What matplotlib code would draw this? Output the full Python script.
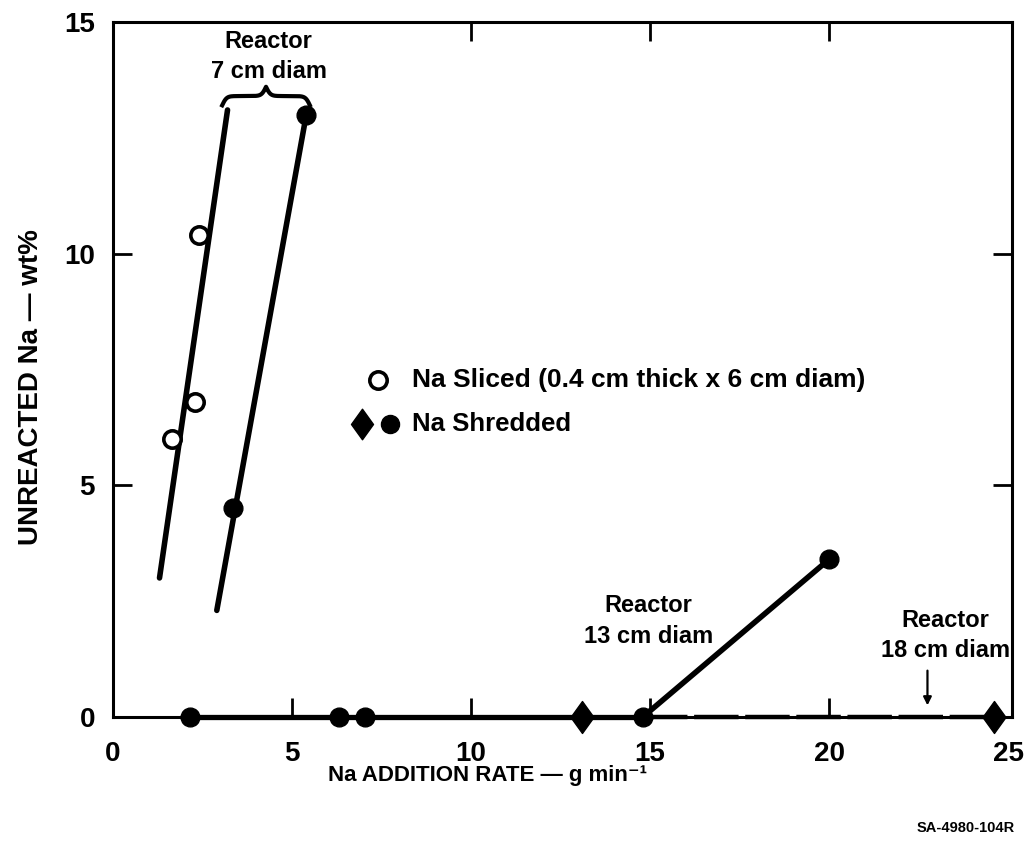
import numpy as np
import matplotlib
matplotlib.use("Agg")
import matplotlib.pyplot as plt
from matplotlib.path import Path

# Sodium sliced, 7 cm reactor (open circles)
sliced_x = [1.65, 2.3, 2.4]
sliced_y = [6.0, 6.8, 10.4]
sliced_fit_x = [1.3, 3.2]
sliced_fit_y = [3.0, 13.1]

# Sodium shredded, 7 cm reactor (filled circles)
shred7_x = [3.35, 5.4]
shred7_y = [4.5, 13.0]
shred7_fit_x = [2.9, 5.4]
shred7_fit_y = [2.3, 13.0]

# Sodium shredded, 13 cm reactor
shred13_x = [2.15, 6.3, 7.05, 14.8, 20.0]
shred13_y = [0.0, 0.0, 0.0, 0.0, 3.4]

# Sodium shredded, 18 cm reactor (diamonds)
shred18_x = [13.1, 24.6]
shred18_y = [0.0, 0.0]

x_ticks = [0, 5, 10, 15, 20, 25]
x_ticks_top = [10, 15, 20]
y_ticks = [0, 5, 10, 15]

plt.rcParams.update({
    "font.family": ["Liberation Sans", "DejaVu Sans"],
    "font.weight": "bold",
    "font.size": 16,
})

# tall diamond marker
diamond = Path([(0, 1), (0.72, 0), (0, -1), (-0.72, 0), (0, 1)],
               [Path.MOVETO, Path.LINETO, Path.LINETO, Path.LINETO, Path.CLOSEPOLY])

fig = plt.figure(figsize=(10.27, 8.43), dpi=100)
ax = fig.add_axes([0.110, 0.1495, 0.875, 0.8245])
ax.set_xlim(0, 25.1)
ax.set_ylim(0, 15)

for s in ax.spines.values():
    s.set_linewidth(2.2)

ax.set_xticks(x_ticks)
ax.set_yticks(y_ticks)
ax.tick_params(direction="in", length=14, width=2, labelsize=20, right=True)
ax.tick_params(axis="x", pad=17)
ax.tick_params(axis="y", pad=13)
for lab in ax.get_xticklabels() + ax.get_yticklabels():
    lab.set_fontweight("bold")
# no tick mark at the right-hand corner
ax.xaxis.get_major_ticks()[-1].tick1line.set_visible(False)

top = ax.secondary_xaxis("top")
top.set_xticks(x_ticks_top)
top.set_xticklabels([])
top.tick_params(direction="in", length=14, width=2)

# fitted lines for the 7 cm reactor
ax.plot(sliced_fit_x, sliced_fit_y, color="black", lw=4, solid_capstyle="round")
ax.plot(shred7_fit_x, shred7_fit_y, color="black", lw=4, solid_capstyle="round")

# 13 cm reactor: flat along zero, then rising
ax.plot(shred13_x[:4], shred13_y[:4], color="black", lw=3.8, clip_on=False, zorder=3)
ax.plot(shred13_x[3:], shred13_y[3:], color="black", lw=4, clip_on=False,
        solid_capstyle="round", zorder=3)
# 18 cm reactor continuation
ax.plot([shred13_x[3], shred18_x[1]], [0, 0], color="black", lw=3.2,
        dashes=(10, 1.5), clip_on=False, zorder=3)

ax.plot(sliced_x, sliced_y, "o", ms=12.5, mfc="white", mec="black", mew=2.6, zorder=4)
ax.plot(shred7_x, shred7_y, "o", ms=13.5, color="black", zorder=4)
ax.plot(shred13_x, shred13_y, "o", ms=13.5, color="black", clip_on=False, zorder=4)
ax.plot(shred18_x, shred18_y, marker=diamond, ls="none", ms=23, color="black",
        clip_on=False, zorder=4)

# legend drawn inside the plot area
ax.plot([7.4], [7.28], "o", ms=12.5, mfc="white", mec="black", mew=2.6)
ax.text(8.35, 7.28, "Na Sliced (0.4 cm thick x 6 cm diam)", fontsize=19,
        fontweight="bold", va="center", ha="left")
ax.plot([6.95], [6.33], marker=diamond, ls="none", ms=22, color="black")
ax.plot([7.75], [6.33], "o", ms=13, color="black")
ax.text(8.35, 6.33, "Na Shredded", fontsize=18.5, fontweight="bold",
        va="center", ha="left")

# curly brace over the 7 cm reactor lines
x0, x1, yb, h = 3.05, 5.5, 13.2, 0.4
u = np.linspace(0, 0.5, 200)
half = 1 / (1 + np.exp(-40 * u)) + 1 / (1 + np.exp(-40 * (u - 0.5))) - 0.5
bx = np.concatenate([u, 1 - u[::-1]])
by = np.concatenate([half, half[::-1]])
ax.plot(x0 + bx * (x1 - x0), yb + by * h, color="black", lw=3)

label_kw = dict(ha="center", va="center", fontsize=17, fontweight="bold",
                linespacing=1.4)
ax.text(4.35, 14.26, "Reactor\n7 cm diam", **label_kw)
ax.text(14.95, 2.07, "Reactor\n13 cm diam", **label_kw)
ax.text(23.25, 1.75, "Reactor\n18 cm diam", **label_kw)
ax.annotate("", xy=(22.75, 0.25), xytext=(22.75, 1.0),
            arrowprops=dict(arrowstyle="-|>", color="black", lw=1.6,
                            mutation_scale=12, shrinkA=0, shrinkB=0))

fig.text(0.475, 0.080, "Na ADDITION RATE — g min⁻¹",
         ha="center", va="center", fontsize=16, fontweight="bold")
fig.text(0.030, 0.541, "UNREACTED Na — wt%", ha="center", va="center",
         rotation=90, fontsize=20, fontweight="bold")
fig.text(0.988, 0.018, "SA-4980-104R", ha="right", va="center",
         fontsize=10.5, fontweight="bold")

fig.savefig("out.png", dpi=100, facecolor="white")
